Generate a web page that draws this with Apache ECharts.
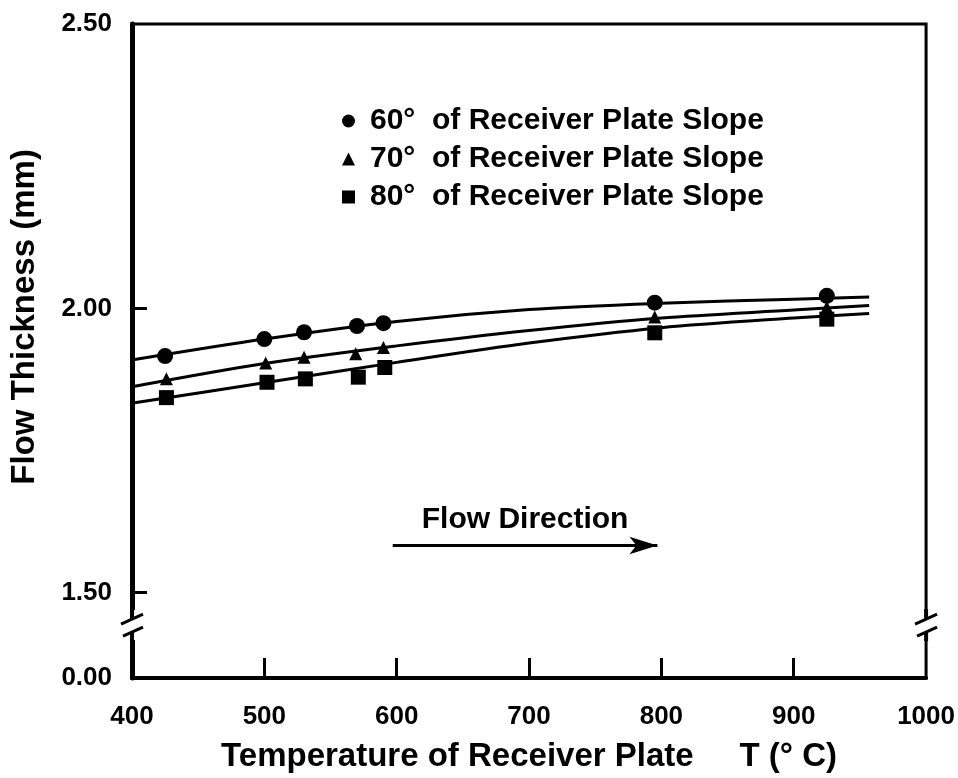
<!DOCTYPE html>
<html><head><meta charset="utf-8">
<script src="https://cdn.jsdelivr.net/npm/echarts@6/dist/echarts.min.js"></script>
<style>html,body{margin:0;padding:0;background:#fff}#c{width:958px;height:778px}</style>
</head><body><div id="c"></div>
<script>
// ---- data ----
const xTickLabels = [400, 500, 600, 700, 800, 900, 1000];
const xTickMarks = [500, 600, 700, 800, 900];
const yLabelPositions = [1.35, 1.5, 2.0, 2.5];   // 1.35 = bottom of broken axis
const yTickLabels = ['0.00', '1.50', '2.00', '2.50'];
const yTickMarks = [1.5, 2.0];

const seriesNames = ['60°  of Receiver Plate Slope', '70°  of Receiver Plate Slope', '80°  of Receiver Plate Slope'];

const temps60 = [425, 500, 530, 570, 590, 795, 925];
const thick60 = [1.916, 1.946, 1.958, 1.969, 1.974, 2.010, 2.022];
const temps70 = [426, 501, 530, 569, 590, 795, 925];
const thick70 = [1.876, 1.904, 1.914, 1.920, 1.931, 1.985, 2.002];
const temps80 = [426, 502, 531, 571, 591, 795, 925];
const thick80 = [1.843, 1.870, 1.876, 1.879, 1.896, 1.957, 1.981];

// fitted curves
const curveT = [402, 500, 600, 700, 800, 900, 957];
const curve60 = [1.910, 1.946, 1.977, 1.998, 2.009, 2.016, 2.020];
const curve70 = [1.863, 1.903, 1.934, 1.961, 1.983, 1.997, 2.005];
const curve80 = [1.834, 1.869, 1.905, 1.939, 1.966, 1.983, 1.991];

const arrowStartT = 597, arrowEndT = 797, arrowY = 1.583;
const breakY = 1.443;
const yTitleCenter = 1.985;

// ---- chart ----
const FONT = 'Liberation Sans';
const zip = (a, b) => a.map((v, i) => [v, b[i]]);
const chart = echarts.init(document.getElementById('c'), null, {renderer: 'canvas'});

const scatter = (name, t, v, symbol, size) => ({
  name, type: 'scatter', data: zip(t, v), symbol, symbolSize: size,
  itemStyle: {color: '#000', opacity: 1}, z: 5, silent: true
});
const curve = (v) => ({
  type: 'line', data: zip(curveT, v), showSymbol: false, smooth: 0.3,
  lineStyle: {color: '#000', width: 3}, z: 4, silent: true
});

const option = {
  animation: false,
  backgroundColor: '#fff',
  textStyle: {fontFamily: FONT},
  grid: {left: 132, right: 31, top: 24, height: 656, show: true, borderColor: '#000', borderWidth: 3, backgroundColor: 'transparent'},
  legend: {
    data: seriesNames, orient: 'vertical', left: 337, top: 101, itemGap: 8,
    itemWidth: 13, itemHeight: 13, selectedMode: false,
    itemStyle: {opacity: 1},
    textStyle: {fontSize: 30, fontWeight: 'bold', color: '#000', fontFamily: FONT, padding: [0, 0, 0, 10]}
  },
  xAxis: {
    type: 'value', min: 400, max: 1000, interval: 100,
    name: 'Temperature of Receiver Plate     T (° C)', nameLocation: 'middle', nameGap: 62,
    nameTextStyle: {fontSize: 33, fontWeight: 'bold', color: '#000', fontFamily: FONT},
    axisLine: {show: true, lineStyle: {color: '#000', width: 4}},
    axisTick: {show: true, inside: true, length: 20, lineStyle: {color: '#000', width: 3}, customValues: xTickMarks},
    axisLabel: {fontSize: 26, fontWeight: 'bold', color: '#000', margin: 26, fontFamily: FONT, customValues: xTickLabels,
      formatter: (v) => String(v)},
    splitLine: {show: false}
  },
  yAxis: {
    type: 'value', min: 1.35, max: 2.5,
    axisLine: {show: true, lineStyle: {color: '#000', width: 5}},
    axisTick: {show: true, inside: true, length: 15, lineStyle: {color: '#000', width: 3}, customValues: yTickMarks},
    axisLabel: {fontSize: 26, fontWeight: 'bold', color: '#000', margin: 20, fontFamily: FONT,
      customValues: yLabelPositions,
      formatter: (v) => { const i = yLabelPositions.findIndex(p => Math.abs(p - v) < 1e-6); return i >= 0 ? yTickLabels[i] : ''; }
    },
    splitLine: {show: false}
  },
  series: [
    scatter(seriesNames[0], temps60, thick60, 'circle', 16),
    scatter(seriesNames[1], temps70, thick70, 'triangle', 13),
    scatter(seriesNames[2], temps80, thick80, 'rect', 15),
    curve(curve60), curve(curve70), curve(curve80),
    {
      type: 'line', data: [], silent: true,
      markLine: {
        silent: true, symbol: ['none', 'arrow'], symbolSize: [13, 28],
        lineStyle: {color: '#000', width: 3, type: 'solid'},
        label: {show: true, position: 'insideMiddleTop', distance: 11, formatter: 'Flow Direction',
          fontSize: 30, fontWeight: 'bold', color: '#000', fontFamily: FONT},
        data: [[{coord: [arrowStartT, arrowY]}, {coord: [arrowEndT, arrowY]}]]
      }
    }
  ]
};
chart.setOption(option);

// decorations: axis title and break marks
const pL = chart.convertToPixel({gridIndex: 0}, [400, breakY]);
const pR = chart.convertToPixel({gridIndex: 0}, [1000, breakY]);
const pMid = chart.convertToPixel({gridIndex: 0}, [400, yTitleCenter]);
const breakMark = (p) => [
  {type: 'rect', shape: {x: p[0] - 9, y: p[1] - 15, width: 18, height: 30}, style: {fill: '#fff'}, z: 100},
  {type: 'line', shape: {x1: p[0] - 11, y1: p[1] - 1, x2: p[0] + 11, y2: p[1] - 11}, style: {stroke: '#000', lineWidth: 3}, z: 101},
  {type: 'line', shape: {x1: p[0] - 9, y1: p[1] + 11, x2: p[0] + 11, y2: p[1] + 2}, style: {stroke: '#000', lineWidth: 3}, z: 101},
  {type: 'line', shape: {x1: p[0], y1: p[1] - 16, x2: p[0], y2: p[1] - 7}, style: {stroke: '#000', lineWidth: 4}, z: 101},
  {type: 'line', shape: {x1: p[0], y1: p[1] + 7, x2: p[0], y2: p[1] + 16}, style: {stroke: '#000', lineWidth: 4}, z: 101}
];
chart.setOption({
  graphic: [
    ...breakMark(pL), ...breakMark(pR),
    {type: 'text', x: 25, y: pMid[1], rotation: Math.PI / 2, z: 100,
      style: {text: 'Flow Thickness (mm)', fontSize: 33, fontWeight: 'bold', fontFamily: FONT, fill: '#000', align: 'center', verticalAlign: 'middle'}}
  ]
});
</script>
</body></html>
